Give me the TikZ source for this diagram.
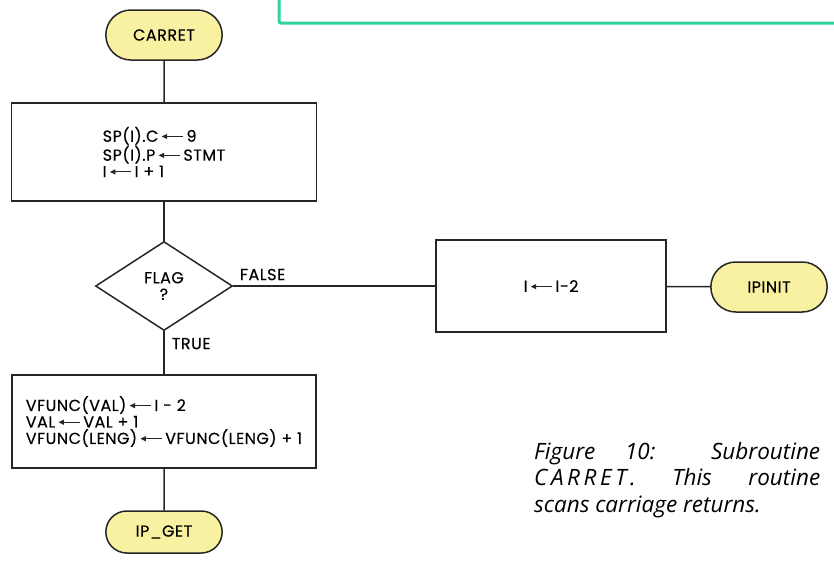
\documentclass[tikz,border=0pt]{standalone}
\usepackage{fontspec}
\setmainfont{Poppins}[LetterSpace=3, FakeBold=0.3]
\newfontfamily\captfont{Open Sans}
\usepackage{xcolor}
\usepackage{tikz}
\usetikzlibrary{shapes.geometric,shapes.misc,arrows.meta,positioning}

\definecolor{termyellow}{RGB}{248,241,162}
\definecolor{framegreen}{RGB}{45,214,150}
\definecolor{ink}{RGB}{38,38,38}

% assignment arrow with a filled head
\newcommand{\asg}{\,\tikz[baseline]\draw[ink, line width=1.1pt, -{Triangle[length=5.5pt,width=5pt]}] (1.35em,0.33em) -- (0em,0.33em);\,}

\begin{document}
\begin{tikzpicture}[
    x=1pt, y=-1pt,
    font=\fontsize{16}{16.5}\selectfont,
    term/.style={rounded rectangle, draw=ink, line width=1.5pt, fill=termyellow, minimum width=123pt, minimum height=50pt},
    stepbox/.style={rectangle, draw=ink, line width=1.5pt, align=left},
    decide/.style={diamond, draw=ink, line width=1.5pt, minimum width=137pt, minimum height=89pt, inner sep=0pt, align=center},
    link/.style={draw=ink, line width=1.5pt},
    tag/.style={inner sep=0pt},
]
\useasboundingbox (0,0) rectangle (834,560);

% frame of the page above
\draw[framegreen, line width=3pt, rounded corners=2pt] (279,-5) -- (279,23) -- (840,23);

% Entry
\node[term] (carret) at (164,35) {CARRET};

% Store statement pointer
\node[stepbox, minimum width=305pt, minimum height=98pt] (setsp) at (164,152) {SP(I).C\asg 9\\SP(I).P\asg STMT\\I\asg I + 1};
\draw[link] (carret) -- (setsp);

% Test
\node[decide] (flag) at (164,286) {FLAG\\?};
\draw[link] (setsp) -- (flag);

% False branch
\node[stepbox, minimum width=230pt, minimum height=92pt] (back) at (551,286) {I\asg I-2};
\node[term] (ipinit) at (769,287) {IPINIT};
\draw[link] (flag.east) -- node[tag, pos=0, anchor=south west, xshift=6pt, yshift=5pt] (falselbl) {FALSE} (back.west);
\draw[link] (back) -- (ipinit);

% True branch
\node[stepbox, minimum width=304pt, minimum height=93pt] (vfunc) at (164,421.5) {VFUNC(VAL)\asg I - 2\\VAL\asg VAL + 1\\VFUNC(LENG)\asg VFUNC(LENG) + 1};
\draw[link] (flag.south) -- node[tag, pos=0, anchor=north west, xshift=7pt, yshift=-6pt] (truelbl) {TRUE} (vfunc.north);

% Exit
\node[term, minimum height=42pt] (ipget) at (164,532) {IP\_GET};
\draw[link] (vfunc) -- (ipget);

% Caption
\node[anchor=north west, inner sep=0pt, align=left, font=\captfont\itshape\fontsize{22.5}{26.5}\selectfont] (caption) at (534,442) {\makebox[286pt][s]{Figure 10: Subroutine}\\\makebox[286pt][s]{{\addfontfeature{LetterSpace=16}CARRET.} This routine}\\scans carriage returns.};
\end{tikzpicture}
\end{document}
